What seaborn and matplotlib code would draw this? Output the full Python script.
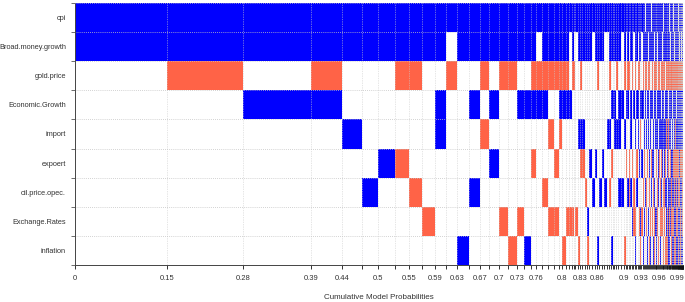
import numpy as np
import pandas as pd
import matplotlib
matplotlib.use("Agg")
import matplotlib.pyplot as plt
import seaborn as sns

variables = ["cpi", "Broad.money.growth", "gold.price", "Economic.Growth", "import",
             "expoert", "oil.price.opec.", "Exchange.Rates", "inflation"]

# one string per model, one char per variable: P = positive, N = negative, . = not included
models = [
    "PP.......", "PPN......", "PP.P.....", "PPNP.....", "PP..P....",
    "PP....P..", "PP...P...", "PPN..N...", "PPN...N..", "PP.....N.",
    "PP.PP....", "P.N......", "PP......P", "PP.P..P..", "PPN.N....",
    "PP.P.P...", "PPN....N.", "PPN.....N", "PP.P...N.", "PP.P....P",
    "PPNP.N...", "P.NP.....", "PPNP..N..", "PPN.N..N.", "PPN..N.N.",
    "PPNPN....", "PPNP....N", "PPNP...N.",
    # thinner models
    "P..P...N.", "PPN....N.", "P.N......", "P......N.", "PP..P...N",
    "PPN.PN...", "PP..PN...", "PP....N..", "PP.....PN", "PP...P...",
    "P.....P..", "PP...P...", "PPN.....P", "PP....P..", "PP...P...",
    "P.....P..", "P...P....", "PPN.P.N..", "PP.P.N..P", "PP.P.....",
    "PP.PP....", "PPN.P....", "PP.PP.P..", "P..P..P..",
    # dense part
    "PPN.P...N", "P..P.N...", "PPNP..P..", "P.N..NN..", "PP.PP.P..",
    "PPN..N.P.", "P..P..NN.", "PPN.P..NP", "PP.P.NP..", "P.NPP....",
    "PPN..P.N.", "PP.PN..PN", "P..P.P.N.", "PPNP..N.P", "PP..PN.P.",
    ".PNP..P..", "PPN.P.NN.", "PP.P.N..P", "P.NPP..P.", "PPN..PN.N",
    "PP.PP..NP", ".P.P.NP..", "PPNP.P.N.", "PP..PPN.P", "P.NP..PNN",
    "PPNPP..P.", "PP.P.NPN.", "PPN.PN.PP", "P..PP.NN.", "PPNP.PP.N",
    # tail
    "PPNPPN...", "PP.PP.NNP", "PPN.PNPN.", "P.NPPP.N.", "PPNP.NNPP",
    ".PNPP.N.N", "PPN.PPNN.", "PP.PPNP.N", "PPNPN.PPN", "P.NP.NNNP",
    "PPNPPP.NN", "PPN.NNPPP", "PP.PPPNN.", ".PNPP.PNP", "PPNPPNN.P",
    "P.NPPNPP.", "PPNP.PNNN", "PP.PPNNPP", "PPN.PPPNP", "PPNPPN.PN",
    ".PNP.NPNP", "PPNPPPNN.", "P.NPPNNPN", "PP.PPP.NP", "PPNPNNPPN",
    "PPNPP.NPP", "PPN.PNNNP", "P.NPPPPN.", "PPNPPNPNP", "PP.PPNNNN",
    "PPNPPPN.P", ".PNPPNNPN", "PPNP.PPPN", "PPNPPNNN.", "P.NPPPNPP",
    "PPNPPN.PP", "PP.PPPNPN", "PPNPPNPNN", "PPNPPPPNP", ".PNPPNNPP",
    "PPNPPPNNN", "P.NPPNPPP", "PPNPPNNPN", "PPNPPPPPN", "PPNPPNPPP",
    "PPNPPPNPN", "PPNPPNNNP", "PPNPPPPNN", "PPNPPPNPP", "PPNPPPPPP",
]

# posterior model probabilities (bar widths)
pmp = [
    .151, .125, .112, .051, .033, .026, .028, .023, .022, .020,
    .019, .018, .019, .019, .015, .015, .015, .015, .012, .011,
    .009, .010, .010, .009, .009, .005, .006, .005,
    .0050, .0025, .0025, .0050, .0033, .0033, .0050, .0033, .0033, .0050,
    .0050, .0033, .0033, .0050, .0017, .0050, .0033, .0033, .0033, .0017,
    .0033, .0033, .0050, .0050,
    .0030, .0028, .0027, .0026, .0025, .0024, .0023, .0022, .0022, .0021,
    .0021, .0020, .0020, .0019, .0019, .0018, .0018, .0017, .0017, .0016,
    .0016, .0016, .0015, .0015, .0015, .0014, .0014, .0014, .0013, .0013,
    .0016, .0015, .0015, .0014, .0014, .0013, .0013, .0013, .0012, .0012,
    .0011, .0011, .0011, .0010, .0010, .0010, .0010, .0009, .0009, .0009,
    .0009, .0008, .0008, .0008, .0008, .0007, .0007, .0007, .0007, .0007,
    .0006, .0006, .0006, .0006, .0005, .0005, .0005, .0005, .0005, .0004,
    .0004, .0004, .0004, .0003, .0003, .0003, .0003, .0002, .0002, .0002,
]

# tick labels that are printed on the x axis
shown_labels = [0, 0.15, 0.28, 0.39, 0.44, 0.5, 0.55, 0.59, 0.63, 0.67, 0.7,
                0.73, 0.76, 0.8, 0.83, 0.86, 0.9, 0.93, 0.96, 0.99]

cum = np.concatenate([[0], np.cumsum(pmp)])

recs = []
for m, code in enumerate(models):
    for v, ch in enumerate(code):
        if ch != ".":
            recs.append(dict(left=cum[m], width=pmp[m], row=v, sign=ch))
df = pd.DataFrame(recs)

sns.set_theme(style="white")
plt.rcParams["font.family"] = ["Liberation Sans", "DejaVu Sans"]

fig = plt.figure(figsize=(6.85, 3.02), dpi=100)
ax = fig.add_axes([75 / 685, 37 / 302, 608 / 685, 262 / 302])

for sign, col in [("P", "#0000FF"), ("N", "#FF6347")]:
    d = df[df["sign"] == sign]
    ax.bar(d["left"], 1, width=d["width"], bottom=d["row"], align="edge",
           color=col, linewidth=0)

ax.set_xlim(0, cum[-1])
ax.set_ylim(len(variables), 0)

# dotted grid at model and variable boundaries
ax.vlines(cum, 0, len(variables), colors="#cccccc", linestyles=(0, (1, 1.5)), linewidth=0.5)
ax.hlines(np.arange(len(variables) + 1), 0, cum[-1], colors="#c4c4c4",
          linestyles=(0, (1, 1.5)), linewidth=0.6)

labels = [""] * len(cum)
for v in shown_labels:
    i = int(np.argmin(np.abs(cum - v)))
    labels[i] = f"{v:g}"
ax.set_xticks(cum)
ax.set_xticklabels(labels)
ax.tick_params(axis="x", which="major", length=3, width=0.6, color="#111111",
               labelsize=5.5, labelcolor="#333333", pad=4.5, bottom=True)

ax.set_yticks(np.arange(len(variables) + 1))
ax.set_yticklabels([])
ax.set_yticks(np.arange(len(variables)) + 0.5, minor=True)
ax.set_yticklabels(variables, minor=True)
ax.tick_params(axis="y", which="major", length=3, width=0.5, color="#333333", left=True)
ax.tick_params(axis="y", which="minor", length=0, labelsize=5.3, labelcolor="#333333", pad=6.5)

ax.set_xlabel("Cumulative Model Probabilities", fontsize=5.8, color="#333333", labelpad=8)

for s in ["top", "right"]:
    ax.spines[s].set_visible(False)
for s in ["left", "bottom"]:
    ax.spines[s].set_linestyle((0, (1, 1)))
    ax.spines[s].set_color("#444444")
    ax.spines[s].set_linewidth(0.7)

fig.savefig("out.png", dpi=100, facecolor="white")
